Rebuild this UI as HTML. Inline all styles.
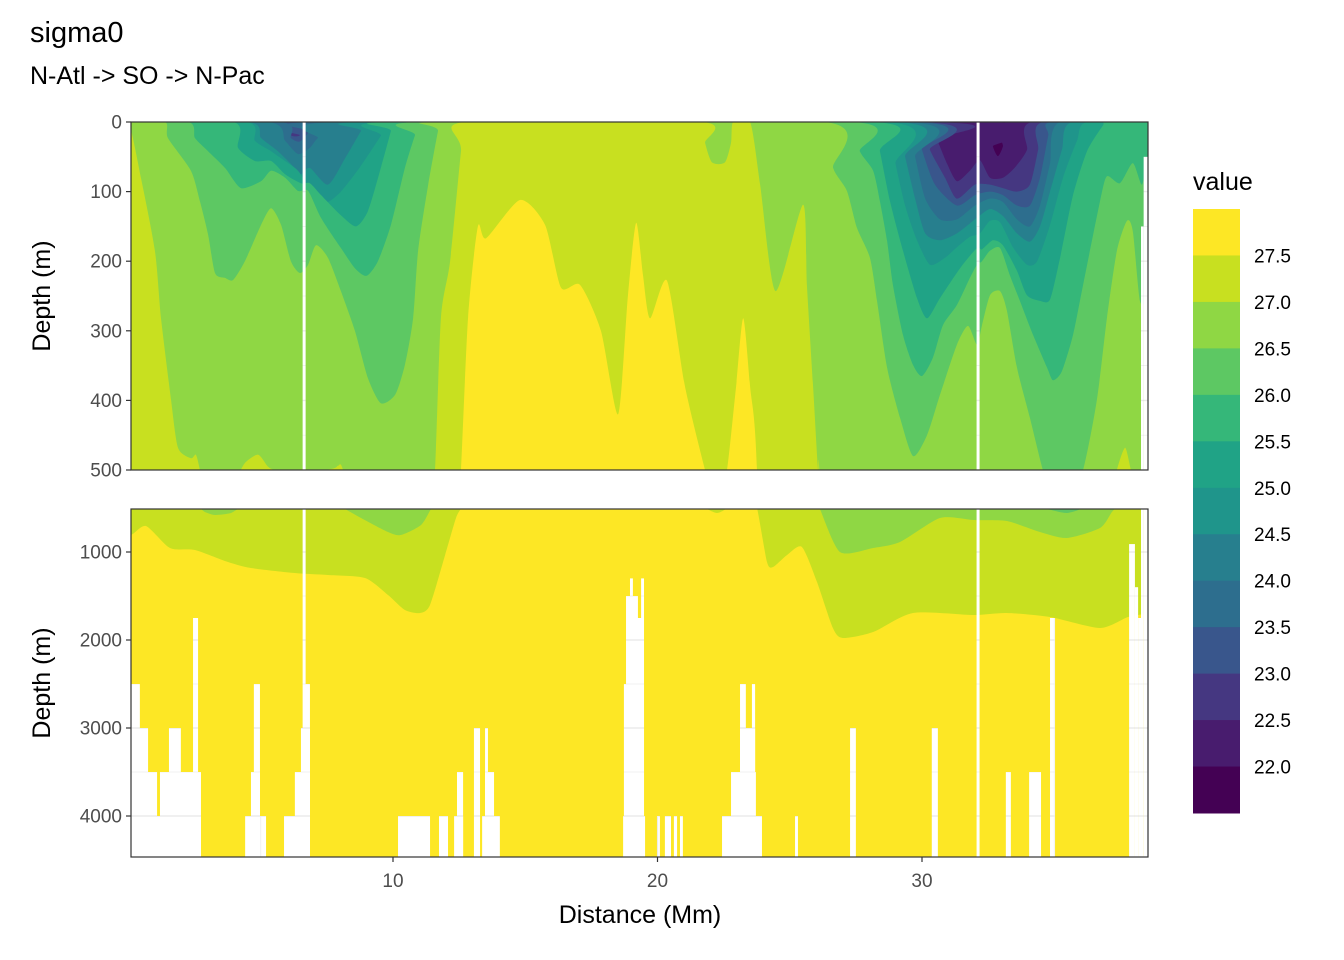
<!DOCTYPE html>
<html><head><meta charset="utf-8"><style>
html,body{margin:0;padding:0;background:#fff;width:1344px;height:960px;overflow:hidden;}
svg{display:block;font-family:"Liberation Sans",Arial,sans-serif;}
</style></head>
<body>
<svg id="chart" width="1344" height="960" viewBox="0 0 1344 960">
<rect width="1344" height="960" fill="#fff"/>
<text x="30" y="42" font-size="29" fill="#000">sigma0</text>
<text x="30" y="84" font-size="25" fill="#000">N-Atl -&gt; SO -&gt; N-Pac</text>
<g id="plot"></g>
</svg>
<script>
// ---- data (distance in Mm, depth in m) ----
const levels = [22.0,22.5,23.0,23.5,24.0,24.5,25.0,25.5,26.0,26.5,27.0,27.5];
const binColors = ["#440154","#481C6E","#453781","#39568C","#2D6E8E","#277F8E","#1F958B","#20A386","#35B779","#5DC863","#8FD744","#C8E020","#FDE725"];
const legendLabels = ["27.5","27.0","26.5","26.0","25.5","25.0","24.5","24.0","23.5","23.0","22.5","22.0"];
const xTicks = [10,20,30];
const topDepthTicks = [0,100,200,300,400,500];
const botDepthTicks = [1000,2000,3000,4000];

const iso220_d = [32.50,32.68,32.87,33.06,33.25];
const iso220_z = [0,35,49,35,0];
const iso225_d = [30.30,30.57,30.95,31.32,31.81,32.19,32.57,33.06,33.52,33.97,34.16];
const iso225_z = [0,25,60,85,70,55,80,80,65,40,0];
const iso230_d = [5.84,6.14,6.48,6.60,30.00,30.30,30.87,31.32,32.00,32.57,33.06,33.59,34.08,34.39,34.58];
const iso230_z = [0,19,19,0,0,40,80,110,90,90,95,100,90,40,0];
const iso235_d = [5.73,6.14,6.48,6.86,7.28,29.74,30.00,30.49,31.32,32.00,32.57,33.06,33.59,34.08,34.46,34.77,34.92];
const iso235_z = [0,23,28,13,0,0,40,90,120,105,100,105,120,120,80,20,0];
const iso240_d = [5.27,5.92,6.41,6.86,7.16,7.92,29.43,29.74,30.12,30.68,31.32,32.00,32.57,33.06,33.59,34.08,34.46,34.84,35.22];
const iso240_z = [0,27,46,37,23,0,0,50,110,140,140,120,110,115,140,150,120,60,0];
const iso245_d = [4.52,5.01,5.65,6.29,6.52,6.86,7.54,8.19,8.79,9.05,29.05,29.36,29.74,30.12,30.68,31.32,32.00,32.57,33.06,33.59,34.08,34.46,34.84,35.29,35.67];
const iso245_z = [0,23,42,66,75,66,90,52,13,0,0,50,110,160,170,160,140,125,135,160,172,150,100,40,0];
const iso250_d = [4.44,4.78,5.39,5.92,6.41,6.86,7.24,7.54,8.03,8.75,9.54,9.88,28.68,29.00,29.36,29.81,30.30,30.87,31.32,31.81,32.19,32.57,32.95,33.44,33.97,34.35,34.84,35.33,35.86,36.24];
const iso250_z = [0,27,42,56,70,95,110,115,100,65,20,0,0,60,120,170,205,195,180,165,160,142,144,180,205,200,148,80,27,0];
const iso255_d = [3.95,4.14,4.78,5.39,5.92,6.52,6.86,7.28,8.03,8.60,9.05,9.54,9.92,10.00,28.15,28.41,28.79,29.28,29.81,30.19,30.68,31.44,32.08,32.27,32.68,33.06,33.59,33.97,34.46,34.84,35.22,35.71,36.24,36.84,36.99];
const iso255_z = [0,37,56,56,75,88,88,105,134,150,128,66,13,0,0,42,114,185,253,282,253,210,181,183,170,177,214,249,257,255,195,105,42,5,0];
const iso260_d = [2.25,2.51,3.01,3.65,4.25,5.01,5.39,5.92,6.41,6.79,7.28,8.03,8.56,9.00,9.43,9.92,10.45,10.83,11.02,27.39,27.65,28.15,28.41,28.68,28.90,29.28,29.66,30.00,30.41,30.79,31.32,31.81,32.08,32.27,32.57,32.95,33.32,33.70,34.20,34.73,34.95,35.29,35.71,36.09,36.73,36.99,37.48,37.97,38.31,38.55];
const iso260_z = [0,23,42,66,95,85,70,80,99,99,138,181,210,221,200,148,66,19,0,0,42,70,114,171,234,306,349,365,339,292,263,224,205,200,185,181,220,257,306,353,371,358,306,234,114,78,88,59,90,55];
const iso265_d = [0,1.38,1.49,2.36,2.70,3.01,3.27,3.65,3.95,4.40,5.01,5.39,5.77,6.14,6.48,6.79,7.09,7.54,8.03,8.56,9.05,9.54,10.08,10.45,10.76,10.95,11.33,11.70,11.78,26.33,26.64,27.16,27.54,28.03,28.30,28.68,29.17,29.66,30.19,30.68,31.32,31.74,32.08,32.27,32.57,32.95,33.21,33.59,34.08,34.57,34.84,35.48,36.09,36.61,36.99,37.37,37.75,37.97,38.24,38.55];
const iso265_z = [0,0,23,70,114,162,217,224,227,200,148,124,148,200,217,205,177,195,243,300,368,404,392,349,282,185,90,13,0,0,66,99,152,195,257,353,425,480,450,392,320,293,320,292,249,243,271,353,425,500,520,557,500,400,282,185,142,157,257,257];
const iso270_d = [0,0.47,1.00,1.23,1.61,1.87,2.36,2.55,2.70,2.89,3.27,3.84,4.14,4.40,4.90,5.27,5.54,6.48,7.73,7.92,8.11,8.79,9.81,10.30,11.06,11.44,11.59,11.81,12.16,12.57,12.72,21.68,21.80,22.06,22.55,22.78,22.86,23.50,23.88,24.46,25.50,25.65,25.88,26.07,26.14,26.90,28.15,29.17,30.68,31.93,33.21,34.46,35.48,36.73,37.18,37.37,37.68,37.90,38.09,38.55];
const iso270_z = [0,80,185,282,400,468,483,478,500,545,580,560,511,490,478,495,500,505,498,494,500,614,773,807,693,511,500,282,200,42,0,0,30,58,58,30,0,0,90,243,119,234,378,500,511,1000,955,886,614,636,648,773,841,727,545,500,468,500,511,511];
const iso275_d = [0.09,0.66,1.57,2.51,3.76,4.63,6.29,7.54,8.94,9.81,10.45,11.02,11.40,11.97,12.38,12.57,12.84,13.21,13.52,14.80,15.75,16.35,17.07,17.86,18.51,18.88,19.19,19.45,19.72,20.36,21.04,21.80,22.25,22.63,22.97,23.24,23.50,23.76,24.14,24.37,24.90,25.46,26.03,26.63,27.01,28.15,29.66,31.93,33.21,34.84,36.73,37.79,38.55];
const iso275_z = [807,705,955,977,1114,1182,1239,1261,1295,1489,1659,1693,1602,1034,614,500,280,150,167,112,148,238,234,300,420,250,145,220,282,228,380,500,557,500,380,282,380,500,1114,1170,1034,943,1341,1864,1977,1909,1693,1716,1693,1739,1864,1739,1700];

// missing-data columns (start Mm, end Mm, top depth m)
const barStart = [0.09,0.09,0.09,1.19,1.53,2.44,0.09,4.41,5.01,4.63,4.74,5.88,6.29,6.52,6.67,10.19,11.74,12.31,12.42,13.06,13.37,13.48,13.48,18.70,18.73,18.81,18.96,19.19,19.38,19.98,20.28,20.62,20.85,22.44,22.78,23.12,23.12,23.57,25.20,27.28,30.37,33.17,34.05,34.84,37.83,38.05,38.17,38.28,38.38];
const barEnd   = [0.43,0.74,1.08,2.74,1.98,2.63,2.74,5.01,5.20,4.97,4.97,6.86,6.86,6.86,6.86,11.40,12.08,12.65,12.65,13.29,14.04,13.82,13.59,19.53,19.49,19.26,19.07,19.49,19.49,20.09,20.51,20.74,20.96,23.95,23.72,23.69,23.34,23.69,25.31,27.50,30.60,33.36,34.50,35.03,38.05,38.17,38.28,38.38,38.55];
const barTop   = [2500,3000,3500,3500,3000,1750,4000,4000,4000,3500,2500,4000,3500,3000,2500,4000,4000,4000,3500,3000,4000,3500,3000,4000,2500,1500,1300,1750,1300,4000,4000,4000,4000,4000,3500,3000,2500,2500,4000,3000,3000,3500,3500,1750,910,1400,1750,150,50];
const gapLines = [6.64,32.12];

const isoD = [iso220_d,iso225_d,iso230_d,iso235_d,iso240_d,iso245_d,iso250_d,iso255_d,iso260_d,iso265_d,iso270_d,iso275_d];
const isoZ = [iso220_z,iso225_z,iso230_z,iso235_z,iso240_z,iso245_z,iso250_z,iso255_z,iso260_z,iso265_z,iso270_z,iso275_z];

// ---- scales ----
const PL = 131, PR = 1148;
const X = d => 128.5 + 26.45 * d;
const clampY = y => Math.max(100, Math.min(950, y));
const yTop = z => clampY(122 + z * 0.696);
const yBot = z => clampY(552 + (z - 1000) * 0.088);
const NS = "http://www.w3.org/2000/svg";
const plot = document.getElementById('plot');
function mk(tag, attrs, parent) {
  const e = document.createElementNS(NS, tag);
  for (const k in attrs) e.setAttribute(k, attrs[k]);
  (parent || plot).appendChild(e);
  return e;
}
function smoothPath(pts) {
  let s = 'M' + pts[0][0].toFixed(1) + ',' + pts[0][1].toFixed(1);
  const t = 0.12;
  for (let i = 0; i < pts.length - 1; i++) {
    const p0 = pts[Math.max(i - 1, 0)], p1 = pts[i], p2 = pts[i + 1], p3 = pts[Math.min(i + 2, pts.length - 1)];
    const c1x = p1[0] + (p2[0] - p0[0]) * t, c1y = p1[1] + (p2[1] - p0[1]) * t;
    const c2x = p2[0] - (p3[0] - p1[0]) * t, c2y = p2[1] - (p3[1] - p1[1]) * t;
    s += 'C' + c1x.toFixed(1) + ',' + c1y.toFixed(1) + ' ' + c2x.toFixed(1) + ',' + c2y.toFixed(1) + ' ' + p2[0].toFixed(1) + ',' + p2[1].toFixed(1);
  }
  return s;
}

const defs = mk('defs', {});
const panels = [
  {name: 'top', y0: 122, y1: 470, yf: yTop, grid: [0,50,100,150,200,250,300,350,400,450,500], major: topDepthTicks, ticks: topDepthTicks},
  {name: 'bottom', y0: 509, y1: 857, yf: yBot, grid: [1000,1500,2000,2500,3000,3500,4000], major: botDepthTicks, ticks: botDepthTicks}
];

panels.forEach(p => {
  const cp = mk('clipPath', {id: 'clip-' + p.name}, defs);
  mk('rect', {x: PL, y: p.y0, width: PR - PL, height: p.y1 - p.y0}, cp);
  const mask = mk('mask', {id: 'mask-' + p.name, maskUnits: 'userSpaceOnUse', x: 0, y: 0, width: 1344, height: 960}, defs);
  mk('rect', {x: PL, y: p.y0, width: PR - PL, height: p.y1 - p.y0, fill: '#fff'}, mask);
  for (let i = 0; i < barStart.length; i++) {
    const yt = Math.max(p.yf(barTop[i]), p.y0 - 2);
    if (yt < p.y1) mk('rect', {x: X(barStart[i]), y: yt, width: X(barEnd[i]) - X(barStart[i]), height: p.y1 - yt + 2, fill: '#000'}, mask);
  }
  gapLines.forEach(g => mk('rect', {x: X(g) - 1.5, y: p.y0 - 2, width: 3, height: p.y1 - p.y0 + 4, fill: '#000'}, mask));

  const bg = mk('rect', {x: PL, y: p.y0, width: PR - PL, height: p.y1 - p.y0, fill: '#fff'});
  
  
  const gg = mk('g', {'clip-path': 'url(#clip-' + p.name + ')'});
  
  
  p.grid.forEach(z => {
    const maj = p.major.indexOf(z) >= 0;
    mk('line', {x1: PL, x2: PR, y1: p.yf(z), y2: p.yf(z), stroke: '#ebebeb', 'stroke-width': maj ? 1.4 : 0.7}, gg);
  });
  [5,10,15,20,25,30,35].forEach(d => {
    const maj = xTicks.indexOf(d) >= 0;
    mk('line', {x1: X(d), x2: X(d), y1: p.y0, y2: p.y1, stroke: '#ebebeb', 'stroke-width': maj ? 1.4 : 0.7}, gg);
  });

  const fg = mk('g', {'clip-path': 'url(#clip-' + p.name + ')'});
  const fm = mk('g', {mask: 'url(#mask-' + p.name + ')'}, fg);
  
  
  const base = mk('rect', {x: PL, y: p.y0 - 5, width: PR - PL, height: p.y1 - p.y0 + 10, fill: binColors[0]}, fm);
  
  
  const yClose = p.y1 + 10;
  for (let k = 0; k < levels.length; k++) {
    const ds = isoD[k], zs = isoZ[k];
    let pts = [[X(-0.5), p.yf(zs[0])]];
    for (let i = 0; i < ds.length; i++) pts.push([X(ds[i]), p.yf(zs[i])]);
    pts.push([X(39), p.yf(zs[zs.length - 1])]);
    const dstr = smoothPath(pts) + 'L' + X(39).toFixed(1) + ',' + Math.max(yClose, 0).toFixed(1) + 'L' + X(-0.5).toFixed(1) + ',' + yClose.toFixed(1) + 'Z';
    const path = mk('path', {d: dstr, fill: binColors[k + 1]}, fm);
    
    
  }
  const border = mk('rect', {x: PL, y: p.y0, width: PR - PL, height: p.y1 - p.y0, fill: 'none', stroke: '#333', 'stroke-width': 1.2});
  
  

  p.ticks.forEach(z => {
    const y = p.yf(z);
    mk('line', {x1: PL - 5, x2: PL, y1: y, y2: y, stroke: '#333', 'stroke-width': 1.2});
    const t = mk('text', {x: PL - 9, y: y + 6.5, 'text-anchor': 'end', 'font-size': 19, fill: '#4d4d4d'});
    t.textContent = z;
    
    
  });
  const yt = mk('text', {x: 0, y: 0, transform: 'translate(50,' + ((p.y0 + p.y1) / 2) + ') rotate(-90)', 'text-anchor': 'middle', 'font-size': 25, fill: '#000'});
  yt.textContent = 'Depth (m)';
  
  
});

xTicks.forEach(d => {
  mk('line', {x1: X(d), x2: X(d), y1: 857, y2: 862, stroke: '#333', 'stroke-width': 1.2});
  const t = mk('text', {x: X(d), y: 887, 'text-anchor': 'middle', 'font-size': 19, fill: '#4d4d4d'});
  t.textContent = d;
  
  
});
const xt = mk('text', {x: 640, y: 923, 'text-anchor': 'middle', 'font-size': 25, fill: '#000'});
xt.textContent = 'Distance (Mm)';



// legend
const lg = mk('g', {});


const lt = mk('text', {x: 1193, y: 190, 'font-size': 25, fill: '#000'}, lg);
lt.textContent = 'value';


const LY0 = 209, LH = 604 / 13;
for (let i = 0; i < 13; i++) {
  const r = mk('rect', {x: 1193, y: LY0 + i * LH, width: 47, height: LH + 0.5, fill: binColors[12 - i]}, lg);
  
  
}
legendLabels.forEach((s, i) => {
  const t = mk('text', {x: 1254, y: LY0 + (i + 1) * LH + 7, 'font-size': 19, fill: '#000'}, lg);
  t.textContent = s;
  
  
});
</script>
</body></html>
